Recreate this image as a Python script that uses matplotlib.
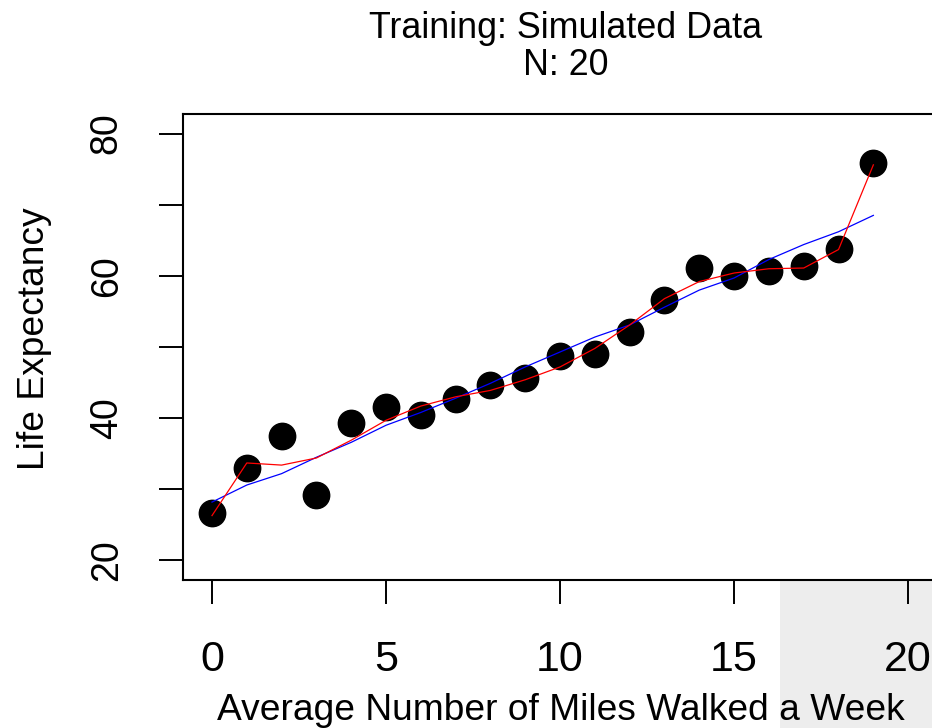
import matplotlib.pyplot as plt
from matplotlib.patches import Rectangle

plt.rcParams["font.family"] = ["Liberation Sans", "DejaVu Sans"]

# miles walked per week vs life expectancy (simulated training set)
miles = list(range(20))
life_exp = [26.6, 33.0, 37.5, 29.2, 39.3, 41.5, 40.4, 42.7, 44.6, 45.6,
            48.7, 49.0, 52.1, 56.6, 61.1, 60.0, 60.7, 61.4, 63.8, 75.8]

# lowess smoother (red) and smooth trend (blue)
lowess_fit = [26.3, 33.7, 33.4, 34.4, 36.9, 39.7, 41.7, 43.0, 43.9, 45.4,
              47.2, 49.8, 53.1, 56.8, 59.2, 60.4, 61.0, 61.1, 63.7, 75.6]
trend_fit = [28.2, 30.6, 32.2, 34.5, 36.6, 39.0, 40.8, 42.8, 44.9, 47.2,
             49.3, 51.4, 53.1, 55.6, 58.0, 59.7, 62.3, 64.4, 66.2, 68.5]

W, H = 932, 728
fig = plt.figure(figsize=(W / 100, H / 100), dpi=100)

# panel outline runs past the right edge of the image
left, right, top, bottom = 183, 936, 114, 580
ax = fig.add_axes([left / W, 1 - bottom / H, (right - left) / W, (bottom - top) / H])

# grey strip in the lower right corner
fig.add_artist(Rectangle((780 / W, 0), 1 - 780 / W, 1 - 581 / H,
                         transform=fig.transFigure, facecolor="#ededed",
                         edgecolor="none", zorder=-1))

ax.plot(miles, life_exp, "o", color="black", markersize=19, zorder=2)
ax.plot(miles, trend_fit, color="blue", linewidth=0.9, zorder=3)
ax.plot(miles, lowess_fit, color="red", linewidth=0.9, zorder=4)

ax.set_xlim(-0.833, 20.8)
ax.set_ylim(17.25, 82.75)

ax.set_xticks([0, 5, 10, 15, 20])
ax.set_yticks([20, 30, 40, 50, 60, 70, 80])
ax.set_yticklabels(["20", "", "40", "", "60", "", "80"], rotation=90, va="center")

ax.tick_params(axis="both", length=17, width=1.4)
ax.tick_params(axis="x", pad=26, labelsize=31)
ax.tick_params(axis="y", pad=25, labelsize=27)
for s in ax.spines.values():
    s.set_linewidth(1.5)

fig.text(566 / W, 1 - 38 / H, "Training: Simulated Data", ha="center",
         va="baseline", fontsize=25.8)
fig.text(566 / W, 1 - 75 / H, "N: 20", ha="center", va="baseline", fontsize=25.8)
fig.text(561 / W, 1 - 720 / H, "Average Number of Miles Walked a Week",
         ha="center", va="baseline", fontsize=26.7)
fig.text(35 / W, 1 - 339 / H, "Life Expectancy", ha="center", va="center",
         rotation=90, fontsize=26.7)

fig.savefig("out.png", dpi=100)
